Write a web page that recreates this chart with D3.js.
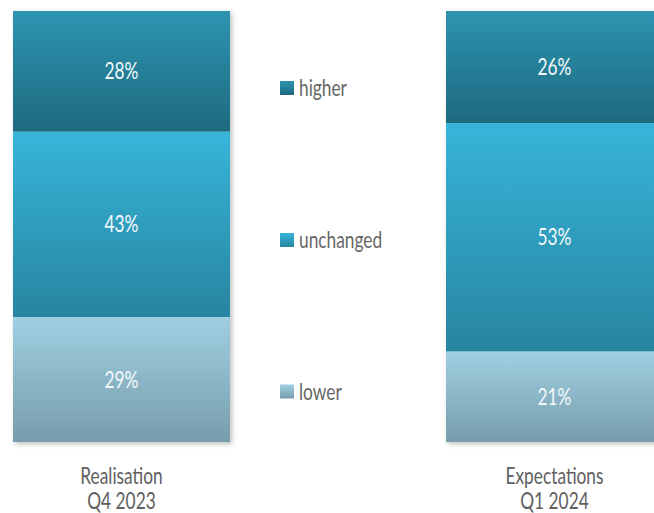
<!DOCTYPE html>
<html>
<head>
<meta charset="utf-8">
<script src="https://cdn.jsdelivr.net/npm/d3@7"></script>
<style>
  html, body { margin: 0; padding: 0; background: #fff; overflow: hidden; }
  svg { display: block; font-family: "Lato", "DejaVu Sans Condensed", sans-serif; }
</style>
</head>
<body>
<svg id="chart" width="654" height="513"></svg>
<script>
// Survey shares per period, stacked bottom-up: lower, unchanged, higher
const categories = ["Realisation\nQ4 2023", "Expectations\nQ1 2024"];
const seriesNames = ["lower", "unchanged", "higher"];
const lowerValues = [29, 21];
const unchangedValues = [43, 53];
const higherValues = [28, 26];

const gradientStops = {
  higher: ["#2c94b1", "#1e6a7f"],
  unchanged: ["#37b5d9", "#2785a1"],
  lower: ["#a0cfe1", "#779dac"]
};

// narrow the text horizontally to get a condensed face
const squeeze = 0.77;
const fontSize = 22.5;

const svg = d3.select("#chart");
const defs = svg.append("defs");

seriesNames.forEach(name => {
  const g = defs.append("linearGradient")
    .attr("id", "grad-" + name)
    .attr("x1", 0).attr("y1", 0).attr("x2", 0).attr("y2", 1);
  g.append("stop").attr("offset", "0%").attr("stop-color", gradientStops[name][0]);
  g.append("stop").attr("offset", "100%").attr("stop-color", gradientStops[name][1]);
});

const shadow = defs.append("filter").attr("id", "shadow")
  .attr("x", "-5%").attr("y", "-5%").attr("width", "115%").attr("height", "115%");
shadow.append("feDropShadow")
  .attr("dx", 2).attr("dy", 2).attr("stdDeviation", 2.5)
  .attr("flood-color", "#000").attr("flood-opacity", 0.25);

const rows = categories.map((c, i) => ({
  category: c,
  lower: lowerValues[i],
  unchanged: unchangedValues[i],
  higher: higherValues[i]
}));

const stacked = d3.stack().keys(seriesNames)(rows);

const x = d3.scaleBand()
  .domain(categories)
  .range([13, 663])
  .paddingInner(1 - 217 / 433)
  .paddingOuter(0);

const y = d3.scaleLinear().domain([0, 100]).range([442, 11]);

// bars with a soft drop shadow behind each full column
svg.append("g").selectAll("rect")
  .data(categories)
  .join("rect")
  .attr("x", d => x(d))
  .attr("y", y(100))
  .attr("width", x.bandwidth())
  .attr("height", y(0) - y(100))
  .attr("fill", "#fff")
  .attr("filter", "url(#shadow)");

const layers = svg.append("g").selectAll("g.layer")
  .data(stacked)
  .join("g")
  .attr("class", "layer")
  .attr("fill", s => "url(#grad-" + s.key + ")");

layers.selectAll("rect")
  .data(s => s.map(d => ({ d, key: s.key })))
  .join("rect")
  .attr("x", p => x(p.d.data.category))
  .attr("y", p => y(p.d[1]))
  .attr("width", x.bandwidth())
  .attr("height", p => y(p.d[0]) - y(p.d[1]));

// percentage labels centred in each segment
layers.selectAll("text")
  .data(s => s.map(d => ({ d, key: s.key })))
  .join("text")
  .attr("transform", p => {
    const cx = x(p.d.data.category) + x.bandwidth() / 2;
    const cy = (y(p.d[0]) + y(p.d[1])) / 2;
    return `translate(${cx},${cy}) scale(${squeeze},1)`;
  })
  .attr("dy", "0.36em")
  .attr("text-anchor", "middle")
  .attr("fill", "#f4f8fa")
  .attr("font-size", fontSize)
  .text(p => (p.d[1] - p.d[0]) + "%");

// category labels under the bars, two lines each
const catLabels = svg.append("g").selectAll("text")
  .data(categories)
  .join("text")
  .attr("transform", d => `translate(${x(d) + x.bandwidth() / 2},484) scale(${squeeze},1)`)
  .attr("text-anchor", "middle")
  .attr("fill", "#606060")
  .attr("font-size", fontSize);

catLabels.selectAll("tspan")
  .data(d => d.split("\n"))
  .join("tspan")
  .attr("x", 0)
  .attr("dy", (d, i) => i === 0 ? 0 : 25)
  .text(d => d);

// legend, entries level with the first column's segments
const legendY = { higher: 88, unchanged: 240, lower: 391.5 };
const legend = svg.append("g").selectAll("g")
  .data(seriesNames.slice().reverse())
  .join("g")
  .attr("transform", d => `translate(280, ${legendY[d]})`);

legend.append("rect")
  .attr("x", 0).attr("y", -7)
  .attr("width", 14).attr("height", 14)
  .attr("fill", d => "url(#grad-" + d + ")");

legend.append("text")
  .attr("transform", `translate(19,0) scale(${squeeze},1)`)
  .attr("dy", "0.36em")
  .attr("fill", "#666666")
  .attr("font-size", fontSize)
  .text(d => d);
</script>
</body>
</html>
